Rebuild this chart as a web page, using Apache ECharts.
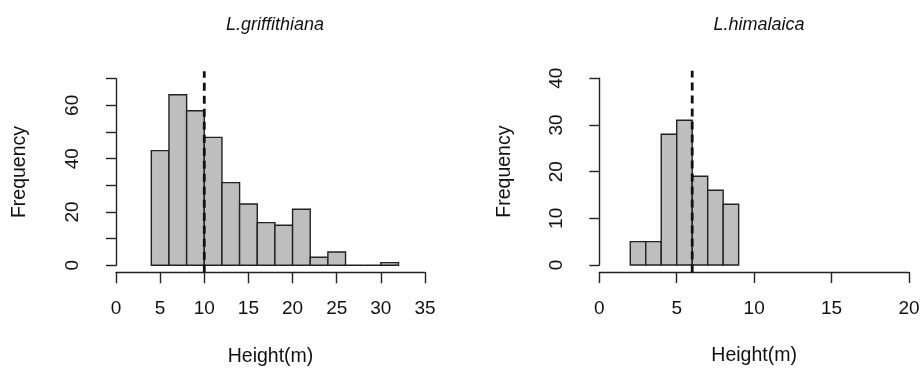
<!DOCTYPE html>
<html>
<head>
<meta charset="utf-8">
<script src="https://cdn.jsdelivr.net/npm/echarts@6/dist/echarts.min.js"></script>
<style>
  html, body { margin: 0; background: #fff; }
  #chart { width: 920px; height: 369px; }
</style>
</head>
<body>
<div id="chart"></div>
<script>
  // L.griffithiana
  var titleA = 'L.griffithiana';
  var edgesA = [4, 6, 8, 10, 12, 14, 16, 18, 20, 22, 24, 26, 28, 30, 32];
  var countsA = [43, 64, 58, 48, 31, 23, 16, 15, 21, 3, 5, 0, 0, 1];
  var meanA = 10;
  var xTicksA = [0, 5, 10, 15, 20, 25, 30, 35];
  var yTicksA = [0, 10, 20, 30, 40, 50, 60, 70];
  var yLabelsA = [0, 20, 40, 60];

  // L.himalaica
  var titleB = 'L.himalaica';
  var edgesB = [2, 3, 4, 5, 6, 7, 8, 9];
  var countsB = [5, 5, 28, 31, 19, 16, 13];
  var meanB = 6;
  var xTicksB = [0, 5, 10, 15, 20];
  var yTicksB = [0, 10, 20, 30, 40];
  var yLabelsB = [0, 10, 20, 30, 40];

  var FONT = '"Liberation Sans", Arial, sans-serif';
  var INK = '#111';

  function binsOf(edges, counts) {
    return counts.map(function (c, i) { return [edges[i], edges[i + 1], c]; });
  }

  function histItem(params, api) {
    var p0 = api.coord([api.value(0), api.value(2)]);
    var p1 = api.coord([api.value(1), 0]);
    return {
      type: 'rect',
      shape: { x: p0[0], y: p0[1], width: p1[0] - p0[0], height: p1[1] - p0[1] },
      style: { fill: '#bebebe', stroke: '#222', lineWidth: 1.4 }
    };
  }

  function xAxisOf(idx, ticks) {
    return {
      type: 'value', gridIndex: idx,
      min: ticks[0], max: ticks[ticks.length - 1], interval: ticks[1] - ticks[0],
      offset: 7,
      name: 'Height(m)', nameLocation: 'middle', nameGap: 74,
      nameTextStyle: { fontFamily: FONT, fontSize: 19.5, color: INK },
      axisLine: { show: true, onZero: false, lineStyle: { color: '#222', width: 1.4 } },
      axisTick: { show: true, length: 11, lineStyle: { color: '#222', width: 1.4 } },
      axisLabel: { margin: 27, fontFamily: FONT, fontSize: 19, color: INK },
      splitLine: { show: false }
    };
  }

  function yAxisOf(idx, ticks, labels, off) {
    return {
      type: 'value', gridIndex: idx,
      min: ticks[0], max: ticks[ticks.length - 1], interval: ticks[1] - ticks[0],
      offset: off,
      name: 'Frequency', nameLocation: 'middle', nameGap: 72,
      nameTextStyle: { fontFamily: FONT, fontSize: 19.5, color: INK },
      axisLine: { show: true, lineStyle: { color: '#222', width: 1.4 } },
      axisTick: { show: true, length: 10, lineStyle: { color: '#222', width: 1.4 } },
      axisLabel: {
        rotate: 90, margin: 20, fontFamily: FONT, fontSize: 19, color: INK,
        formatter: function (v) { return labels.indexOf(v) >= 0 ? String(v) : ''; }
      },
      splitLine: { show: false }
    };
  }

  // R-style abline spans the whole plot region (axis range +/- 4%)
  function meanLine(idx, x, ticks) {
    var top = ticks[ticks.length - 1], ext = (top - ticks[0]) * 0.04;
    return {
      type: 'line', xAxisIndex: idx, yAxisIndex: idx,
      data: [[x, ticks[0] - ext], [x, top + ext]],
      symbol: 'none', clip: false, z: 10,
      lineStyle: { color: INK, width: 2.8, type: [8, 5] }
    };
  }

  var chart = echarts.init(document.getElementById('chart'));
  chart.setOption({
    backgroundColor: '#fff',
    animation: false,
    title: [
      { text: titleA, left: 270, top: 11, textAlign: 'center',
        textStyle: { fontFamily: FONT, fontSize: 18, fontStyle: 'italic', fontWeight: 'normal', color: INK } },
      { text: titleB, left: 754, top: 11, textAlign: 'center',
        textStyle: { fontFamily: FONT, fontSize: 18, fontStyle: 'italic', fontWeight: 'normal', color: INK } }
    ],
    grid: [
      { left: 116, width: 309, top: 78.7, height: 186.6, outerBoundsMode: 'none' },
      { left: 599.3, width: 309.7, top: 78.3, height: 186.7, outerBoundsMode: 'none' }
    ],
    xAxis: [xAxisOf(0, xTicksA), xAxisOf(1, xTicksB)],
    yAxis: [yAxisOf(0, yTicksA, yLabelsA, 14), yAxisOf(1, yTicksB, yLabelsB, 13)],
    series: [
      { type: 'custom', xAxisIndex: 0, yAxisIndex: 0, renderItem: histItem,
        encode: { x: [0, 1], y: 2 }, data: binsOf(edgesA, countsA) },
      { type: 'custom', xAxisIndex: 1, yAxisIndex: 1, renderItem: histItem,
        encode: { x: [0, 1], y: 2 }, data: binsOf(edgesB, countsB) },
      meanLine(0, meanA, yTicksA),
      meanLine(1, meanB, yTicksB)
    ]
  });
</script>
</body>
</html>
